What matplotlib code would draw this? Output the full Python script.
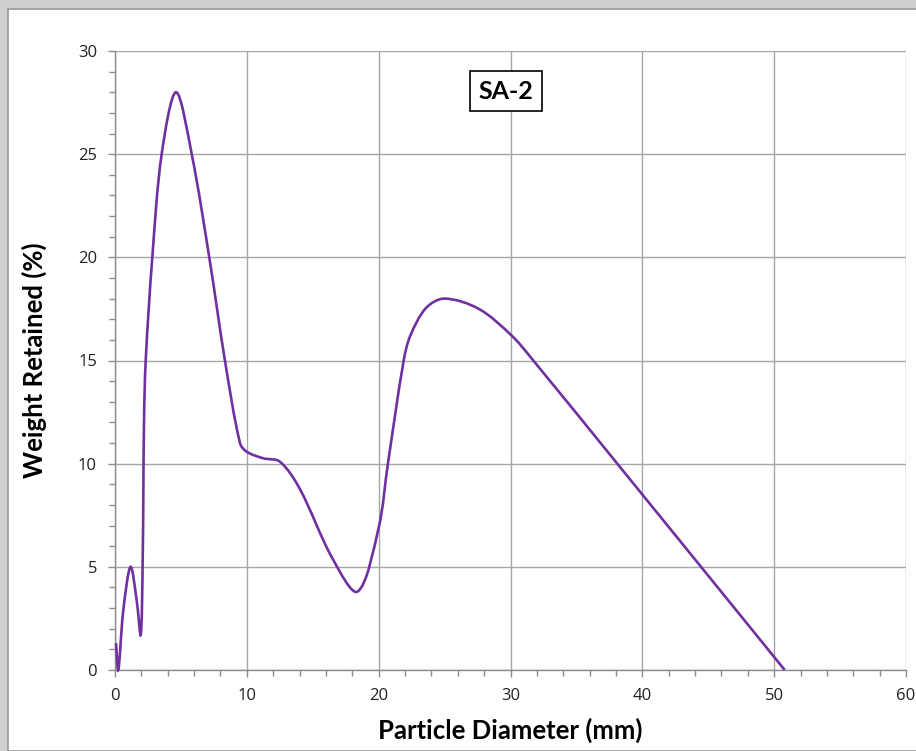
import math
import matplotlib
matplotlib.use("Agg")
import matplotlib.pyplot as plt
from matplotlib.path import Path
from matplotlib.patches import PathPatch, Rectangle
from matplotlib.ticker import MultipleLocator

# points (diameter in mm, % retained)
diameter = [0.075, 0.25, 0.63, 1.18, 1.64, 1.95, 2.1, 2.2, 2.33, 2.83, 3.54, 4.63,
            5.82, 7.15, 8.34, 9.48, 9.99, 11.25, 12.5, 14.0, 16.5, 18.4, 20.0, 20.7,
            21.9, 22.4, 23.6, 25.0, 27.6, 30.1, 31.6, 38.1, 50.8]
retained = [1.3, 0.0, 2.9, 5.0, 3.4, 1.7, 5.3, 12.0, 15.0, 20.0, 25.0, 28.0,
            25.0, 20.0, 15.0, 11.0, 10.58, 10.26, 10.1, 8.8, 5.4, 3.8, 6.9, 10.0,
            15.0, 16.2, 17.55, 18.0, 17.5, 16.2, 15.1, 10.0, 0.0]

x_ticks = [0, 10, 20, 30, 40, 50, 60]
y_ticks = [0, 5, 10, 15, 20, 25, 30]
sample_name = "SA-2"

PURPLE = "#7030A0"
GRID = "#a6a6a6"

# rough px per data unit, only used to weight the smoothing
SX, SY = 13.18, 20.63


def smooth_path(xs, ys):
    # smoothed line: cubic bezier through every point, chord-length tangents
    pts = list(zip(xs, ys))
    n = len(pts)

    def dist(a, b):
        return math.hypot((a[0] - b[0]) * SX, (a[1] - b[1]) * SY)

    verts = [pts[0]]
    codes = [Path.MOVETO]
    for i in range(n - 1):
        p1, p2 = pts[i], pts[i + 1]
        p0 = pts[i - 1] if i > 0 else p1
        p3 = pts[i + 2] if i + 2 < n else p2
        d0, d1, d2 = dist(p0, p1), dist(p1, p2), dist(p2, p3)
        k1 = d1 / (3 * (d0 + d1))
        k2 = d1 / (3 * (d1 + d2))
        c1 = (p1[0] + (p2[0] - p0[0]) * k1, p1[1] + (p2[1] - p0[1]) * k1)
        c2 = (p2[0] - (p3[0] - p1[0]) * k2, p2[1] - (p3[1] - p1[1]) * k2)
        verts += [c1, c2, p2]
        codes += [Path.CURVE4] * 3
    return Path(verts, codes)


fig = plt.figure(figsize=(9.16, 7.51), dpi=100)
fig.patch.set_facecolor("#cfcfcf")
# white chart panel
fig.patches.append(Rectangle((8 / 916, 0), 1, 1 - 9 / 751, transform=fig.transFigure,
                             facecolor="white", edgecolor="#9a9a9a", lw=1.2, zorder=-1))

ax = fig.add_axes([115 / 916, 1 - 670 / 751, 791 / 916, 619 / 751])
ax.set_facecolor("none")

ax.add_patch(PathPatch(smooth_path(diameter, retained), facecolor="none",
                       edgecolor=PURPLE, lw=1.9, zorder=3, clip_on=False))

ax.set_xlim(0, 60)
ax.set_ylim(0, 30)
ax.set_xticks(x_ticks)
ax.set_yticks(y_ticks)
ax.xaxis.set_minor_locator(MultipleLocator(2))
ax.yaxis.set_minor_locator(MultipleLocator(1))
ax.grid(True, which="major", color=GRID, lw=1.0)
ax.set_axisbelow(True)

for s in ["top", "right"]:
    ax.spines[s].set_visible(False)
for s in ["left", "bottom"]:
    ax.spines[s].set_color("#8c8c8c")
    ax.spines[s].set_linewidth(1.0)

ax.tick_params(which="major", direction="out", length=5, width=1, color="#8c8c8c",
               labelsize=12, labelcolor="#222222", pad=8)
ax.tick_params(which="minor", direction="out", length=4, width=1, color="#8c8c8c")
for lab in ax.get_xticklabels() + ax.get_yticklabels():
    lab.set_family("Open Sans")

ax.set_xlabel("Particle Diameter (mm)", fontsize=18.5, fontweight="bold",
              family="Lato", labelpad=10)
ax.set_ylabel("Weight Retained (%)", fontsize=18.5, fontweight="bold",
              family="Lato", labelpad=22)

ax.text(0.494, 0.935, sample_name, transform=ax.transAxes, ha="center", va="center",
        fontsize=18, fontweight="bold", family="Lato",
        bbox=dict(boxstyle="square,pad=0.35", facecolor="white", edgecolor="black", lw=1.2))

fig.savefig("out.png", dpi=100, facecolor=fig.get_facecolor())
